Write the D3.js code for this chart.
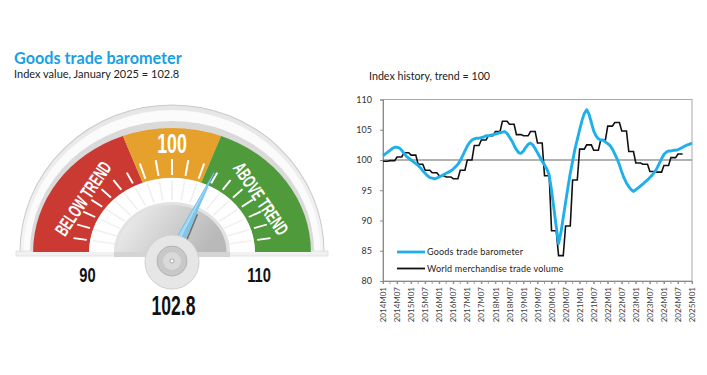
<!DOCTYPE html>
<html>
<head>
<meta charset="utf-8">
<script src="https://cdn.jsdelivr.net/npm/d3@7"></script>
<style>
body { margin: 0; background: #fff; }
svg { display: block; }
</style>
</head>
<body>
<script>

// ---- gauge data ----
var gaugeValue = 102.8;
var gaugeRange = [90, 110];
var zoneBreaks = [90, 97.7, 102.3, 110];
var zoneColors = ["#cb3a32", "#e6a12d", "#4f9a3a"];
var gaugeTicks = [91, 92, 93, 94, 95, 96, 97, 98, 99, 100, 101, 102, 103, 104, 105, 106, 107, 108, 109];

// ---- history data ----
var monthLabels = ["2014M01", "2014M07", "2015M01", "2015M07", "2016M01", "2016M07", "2017M01", "2017M07",
    "2018M01", "2018M07", "2019M01", "2019M07", "2020M01", "2020M07", "2021M01", "2021M07", "2022M01",
    "2022M07", "2023M01", "2023M07", "2024M01", "2024M07", "2025M01"];
var yTicks = [80, 85, 90, 95, 100, 105, 110];

// Goods trade barometer, monthly 2014M01 .. 2025M01
var barometer = [
    100.7, 101.0, 101.3, 101.6, 101.9, 102.1, 102.1, 102.0, 101.6, 101.1, 100.6, 100.3,
    100.0, 99.7, 99.4, 99.1, 98.7, 98.2, 97.8, 97.4, 97.1, 97.0, 96.9, 97.0,
    97.2, 97.4, 97.6, 97.8, 98.0, 98.2, 98.5, 98.9, 99.3, 99.9, 100.7, 101.5,
    102.3, 102.9, 103.3, 103.5, 103.6, 103.6, 103.7, 103.8, 104.0, 104.0, 104.1, 104.2,
    104.3, 104.4, 104.5, 104.6, 104.7, 104.4, 103.8, 103.2, 102.4, 101.7, 101.2, 101.1,
    101.5, 102.1, 102.6, 102.8, 102.5, 101.9, 101.2, 100.5, 99.8, 99.2, 98.5, 97.5,
    95.0, 92.0, 89.0, 86.2, 88.0, 90.5, 93.0, 95.5, 97.8, 99.8, 101.8, 103.4,
    105.0, 106.5, 107.7, 108.3, 107.6, 106.2, 104.8, 104.0, 103.5, 103.3, 103.3, 103.0,
    102.7, 102.4, 101.8, 101.0, 100.2, 99.2, 98.0, 97.0, 96.2, 95.6, 95.1, 94.8,
    95.1, 95.4, 95.7, 96.0, 96.4, 96.7, 97.1, 97.5, 98.0, 98.6, 99.4, 100.2,
    100.9, 101.3, 101.5, 101.5, 101.6, 101.6, 101.7, 101.9, 102.1, 102.3, 102.5, 102.6,
    102.8
];

// World merchandise trade volume, quarterly 2014Q1 .. 2024Q3
var tradeVolume = [
    99.8, 99.9, 100.5, 101.2,
    100.8, 99.3, 98.3, 97.9,
    97.4, 97.2, 96.9, 98.3,
    100.0, 102.4, 103.3, 104.0,
    104.7, 106.4, 105.9, 104.2,
    104.0, 104.7, 102.8, 97.4,
    88.3, 84.2, 89.1, 96.7,
    101.8, 102.5, 101.6, 103.3,
    105.6, 106.2, 104.8, 101.4,
    99.5, 99.3, 98.1, 98.0,
    99.1, 100.4, 101.0
];

var seriesNames = ["Goods trade barometer", "World merchandise trade volume"];
var seriesColors = ["#1fb0ec", "#111111"];

function draw() {

    var svg = d3.select("body").append("svg")
        .attr("width", 707)
        .attr("height", 375);

    // ---------- titles ----------
    svg.append("text").text("Goods trade barometer")
        .attr("x", 14).attr("y", 64)
        .attr("font-family", "Lato, sans-serif").attr("font-weight", "bold")
        .attr("font-size", "16.2px").attr("fill", "#1a9fe3");

    svg.append("text").text("Index value, January 2025 = 102.8")
        .attr("x", 14).attr("y", 78)
        .attr("font-family", "Lato, sans-serif").attr("font-size", "11px").attr("fill", "#222");

    svg.append("text").text("Index history, trend = 100")
        .attr("x", 369).attr("y", 80)
        .attr("font-family", "Lato, sans-serif").attr("font-size", "10.7px").attr("fill", "#222");

    // ---------- gauge ----------
    var cx = 172, cy = 252;
    var defs = svg.append("defs");

    var domeGrad = defs.append("linearGradient").attr("id", "dome")
        .attr("x1", "0%").attr("y1", "0%").attr("x2", "100%").attr("y2", "30%");
    domeGrad.append("stop").attr("offset", "0%").attr("stop-color", "#f4f4f4");
    domeGrad.append("stop").attr("offset", "55%").attr("stop-color", "#d2d2d2");
    domeGrad.append("stop").attr("offset", "100%").attr("stop-color", "#b9b9b9");

    var rimGrad = defs.append("linearGradient").attr("id", "rim")
        .attr("x1", "0%").attr("y1", "0%").attr("x2", "0%").attr("y2", "100%");
    rimGrad.append("stop").attr("offset", "0%").attr("stop-color", "#e6e6e6");
    rimGrad.append("stop").attr("offset", "100%").attr("stop-color", "#f5f5f5");

    var angle = d3.scaleLinear().domain(gaugeRange).range([-Math.PI / 2, Math.PI / 2]);

    function halfDisc(r, sx, fill, stroke) {
        svg.append("path")
            .attr("transform", "translate(" + cx + "," + cy + ") scale(" + sx + ",1)")
            .attr("d", d3.arc()({ innerRadius: 0, outerRadius: r, startAngle: -Math.PI / 2, endAngle: Math.PI / 2 }))
            .attr("fill", fill)
            .attr("stroke", stroke || "none")
            .attr("stroke-width", 1);
    }

    // outer rim
    halfDisc(147, 1.034, "url(#rim)", "#c9c9c9");
    halfDisc(142, 1.045, "#fbfbfb");
    halfDisc(131, 1.085, "#dadada");

    // base foot of the rim
    svg.append("rect").attr("x", cx - 156).attr("y", cy - 1).attr("width", 312).attr("height", 5)
        .attr("fill", "#f1f1f1").attr("stroke", "#dedede").attr("stroke-width", 0.8);

    var g = svg.append("g")
        .attr("transform", "translate(" + cx + "," + cy + ") scale(1.12,1)");

    // coloured zones
    g.selectAll("path.zone").data(zoneColors).enter().append("path")
        .attr("class", "zone")
        .attr("d", function (d, i) {
            return d3.arc()({
                innerRadius: 74, outerRadius: 124,
                startAngle: angle(zoneBreaks[i]), endAngle: angle(zoneBreaks[i + 1])
            });
        })
        .attr("fill", function (d) { return d; });

    // white inner area
    g.append("path")
        .attr("d", d3.arc()({ innerRadius: 0, outerRadius: 74, startAngle: -Math.PI / 2, endAngle: Math.PI / 2 }))
        .attr("fill", "#fff");

    // white tick marks in the coloured band (longer in the middle zone)
    g.selectAll("line.tick").data(gaugeTicks).enter().append("line")
        .attr("x1", function (d) { return 77 * Math.sin(angle(d)); })
        .attr("y1", function (d) { return -77 * Math.cos(angle(d)); })
        .attr("x2", function (d) {
            var r = (d >= zoneBreaks[1] && d <= zoneBreaks[2]) ? 93 : 89;
            return r * Math.sin(angle(d));
        })
        .attr("y2", function (d) {
            var r = (d >= zoneBreaks[1] && d <= zoneBreaks[2]) ? 93 : 89;
            return -r * Math.cos(angle(d));
        })
        .attr("stroke", "#fff").attr("stroke-width", 1.8);

    // faint marks in the white area
    g.selectAll("line.faint").data(gaugeTicks).enter().append("line")
        .attr("x1", function (d) { return 52 * Math.sin(angle(d)); })
        .attr("y1", function (d) { return -52 * Math.cos(angle(d)); })
        .attr("x2", function (d) { return 72 * Math.sin(angle(d)); })
        .attr("y2", function (d) { return -72 * Math.cos(angle(d)); })
        .attr("stroke", "#f0f0f0").attr("stroke-width", 1.5);

    // silver dome
    halfDisc(50, 1.16, "#e2e2e2");
    halfDisc(47, 1.16, "url(#dome)");
    svg.append("rect").attr("x", cx - 58).attr("y", cy).attr("width", 116).attr("height", 5)
        .attr("fill", "#d4d4d4");

    // needle
    var na = angle(gaugeValue);
    var pivot = [cx, cy + 4];
    var tip = [cx + 1.12 * 88 * Math.sin(na), cy - 88 * Math.cos(na)];
    var dx = tip[0] - pivot[0], dy = tip[1] - pivot[1];
    var len = Math.sqrt(dx * dx + dy * dy);
    var px = -dy / len, py = dx / len;

    svg.append("line")
        .attr("x1", pivot[0] + 6 * px).attr("y1", pivot[1] + 6 * py + 4)
        .attr("x2", pivot[0] + dx * 0.52 + 4 * px).attr("y2", pivot[1] + dy * 0.52 + 4 * py)
        .attr("stroke", "#6f6f6f").attr("stroke-width", 1.6);

    svg.append("path")
        .attr("d", d3.line()([[pivot[0] - 5 * px, pivot[1] - 5 * py], tip, [pivot[0] + 5 * px, pivot[1] + 5 * py]]) + "Z")
        .attr("fill", "#a6daf4").attr("stroke", "#5ab8e6").attr("stroke-width", 0.8);
    svg.append("path")
        .attr("d", d3.line()([[pivot[0], pivot[1]], tip, [pivot[0] + 5 * px, pivot[1] + 5 * py]]) + "Z")
        .attr("fill", "#7cc6ec");

    // hub
    svg.append("circle").attr("cx", cx).attr("cy", 262).attr("r", 27)
        .attr("fill", "#e6e6e6").attr("stroke", "#d0d0d0").attr("stroke-width", 1);
    svg.append("circle").attr("cx", cx).attr("cy", 261).attr("r", 15)
        .attr("fill", "#c8c8c8").attr("stroke", "#b5b5b5").attr("stroke-width", 1);
    svg.append("circle").attr("cx", cx).attr("cy", 261).attr("r", 9)
        .attr("fill", "#d9d9d9");
    svg.append("circle").attr("cx", cx).attr("cy", 261).attr("r", 2)
        .attr("fill", "#fff").attr("stroke", "#999").attr("stroke-width", 0.8);

    // gauge texts
    var narrow = "'Liberation Sans', Arial, sans-serif";
    function gText(t, x, y, size, rot, fill, sx) {
        svg.append("text").text(t)
            .attr("transform", "translate(" + x + "," + y + ") rotate(" + rot + ") scale(" + sx + ",1)")
            .attr("text-anchor", "middle")
            .attr("dy", "0.36em")
            .attr("font-family", narrow).attr("font-weight", "bold")
            .attr("font-size", size + "px").attr("fill", fill);
    }
    gText("100", cx, 143, 27, 0, "#fff", 0.66);
    gText("BELOW TREND", 83, 198.5, 19, -56, "#fff", 0.6);
    gText("ABOVE TREND", 261, 198.5, 19, 56, "#fff", 0.6);
    gText(String(gaugeRange[0]), 87.5, 274.5, 21, 0, "#111", 0.7);
    gText(String(gaugeRange[1]), 259, 274.5, 21, 0, "#111", 0.7);
    gText(String(gaugeValue), 173.5, 305, 27.5, 0, "#111", 0.64);

    // ---------- history chart ----------
    var pLeft = 383, pRight = 692, pTop = 99.5, pBottom = 281;
    var x = d3.scaleLinear().domain([0, 132]).range([pLeft, pRight]);
    var y = d3.scaleLinear().domain([80, 110]).range([pBottom, pTop]);

    var chart = svg.append("g");

    chart.append("rect")
        .attr("x", pLeft).attr("y", pTop).attr("width", pRight - pLeft).attr("height", pBottom - pTop)
        .attr("fill", "none").attr("stroke", "#a8a8a8").attr("stroke-width", 1);

    chart.append("line")
        .attr("x1", pLeft).attr("x2", pRight).attr("y1", y(100)).attr("y2", y(100))
        .attr("stroke", "#999").attr("stroke-width", 1.4);

    var yAxis = chart.append("g").attr("transform", "translate(" + pLeft + ",0)")
        .call(d3.axisLeft(y).tickValues(yTicks).tickSize(3).tickPadding(8));
    yAxis.select(".domain").attr("stroke", "#8a8a8a");
    yAxis.selectAll(".tick line").attr("stroke", "#8a8a8a");
    yAxis.selectAll("text").attr("font-family", "Lato, sans-serif").attr("font-size", "9px").attr("fill", "#333");

    var minorTicks = d3.range(0, 133, 3);
    chart.selectAll("line.minor").data(minorTicks).enter().append("line")
        .attr("x1", function (d) { return x(d); }).attr("x2", function (d) { return x(d); })
        .attr("y1", pBottom).attr("y2", pBottom + 3)
        .attr("stroke", "#8a8a8a").attr("stroke-width", 0.8);

    var xAxis = chart.append("g").attr("transform", "translate(0," + pBottom + ")")
        .call(d3.axisBottom(x)
            .tickValues(monthLabels.map(function (d, i) { return i * 6; }))
            .tickFormat(function (d) { return monthLabels[d / 6]; })
            .tickSize(3));
    xAxis.select(".domain").attr("stroke", "#8a8a8a");
    xAxis.selectAll(".tick line").attr("stroke", "#8a8a8a");
    xAxis.selectAll("text")
        .attr("transform", "translate(0,6) rotate(-90)")
        .attr("text-anchor", "end")
        .attr("x", 0).attr("y", 0).attr("dy", "0.33em")
        .attr("font-family", "Lato, sans-serif").attr("font-size", "8px").attr("fill", "#444");

    // trade volume: each quarter flat over its three months
    var volPoints = [];
    tradeVolume.forEach(function (v, q) {
        volPoints.push([3 * q, v]);
        volPoints.push([3 * q + 2, v]);
    });

    var line = d3.line()
        .x(function (d) { return x(d[0]); })
        .y(function (d) { return y(d[1]); });

    chart.append("path")
        .attr("d", line(volPoints))
        .attr("fill", "none").attr("stroke", seriesColors[1]).attr("stroke-width", 1.6);

    chart.append("path")
        .attr("d", line(barometer.map(function (v, i) { return [i, v]; })))
        .attr("fill", "none").attr("stroke", seriesColors[0]).attr("stroke-width", 2.9)
        .attr("stroke-linejoin", "round");

    // legend
    var legend = chart.append("g").attr("transform", "translate(397,252)");
    seriesNames.forEach(function (name, i) {
        legend.append("line")
            .attr("x1", 0).attr("x2", 28).attr("y1", i * 16.5).attr("y2", i * 16.5)
            .attr("stroke", seriesColors[i]).attr("stroke-width", i === 0 ? 2.8 : 1.8);
        legend.append("text").text(name)
            .attr("x", 30).attr("y", i * 16.5 + 3)
            .attr("font-family", "Lato, sans-serif").attr("font-size", "9px").attr("fill", "#222")
            .attr("letter-spacing", "0.2px");
    });
}

draw();

</script>
</body>
</html>
